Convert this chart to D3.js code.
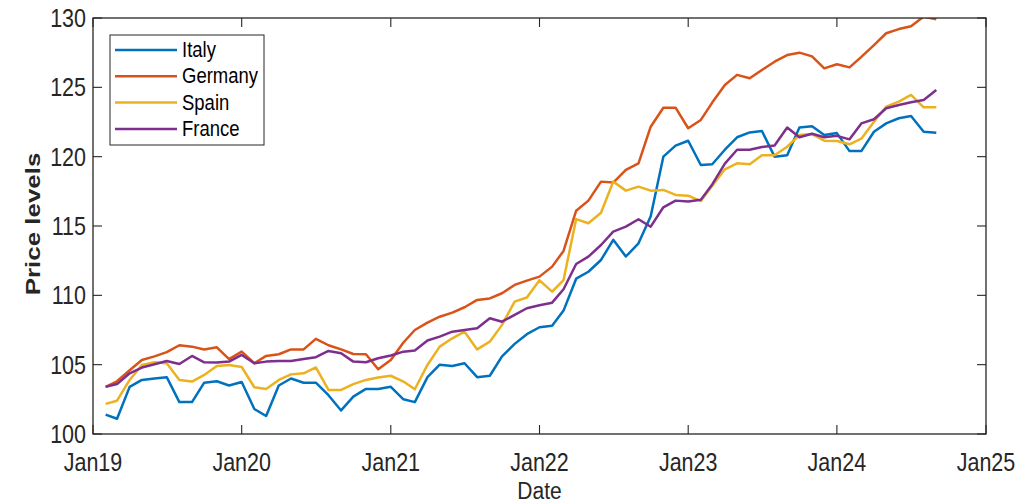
<!DOCTYPE html>
<html><head><meta charset="utf-8">
<script src="https://cdn.jsdelivr.net/npm/d3@7"></script>
<style>body{margin:0;background:#fff}svg{display:block}</style>
</head><body>
<svg id="c" width="1030" height="504"></svg>
<script>
const countries = ["Italy","Germany","Spain","France"];
const colors = ["#0072BD","#D95319","#EDB120","#7E2F8E"];
const startMonth = [2019, 1]; // Feb 2019
const italy = [101.4,101.1,103.4,103.9,104.0,104.1,102.3,102.3,103.7,103.8,103.5,103.75,
101.8,101.3,103.5,104.0,103.7,103.7,102.8,101.7,102.7,103.25,103.25,103.4,
102.5,102.3,104.1,105.0,104.9,105.1,104.1,104.2,105.6,106.5,107.2,107.7,
107.8,108.9,111.2,111.7,112.55,114.0,112.8,113.75,115.7,120.0,120.8,121.15,
119.4,119.45,120.5,121.4,121.75,121.85,120.0,120.1,122.1,122.2,121.56,121.7,
120.4,120.4,121.8,122.4,122.77,122.93,121.8,121.73];
const germany = [103.4,103.8,104.6,105.34,105.6,105.9,106.4,106.3,106.1,106.25,105.4,105.94,
105.1,105.63,105.75,106.1,106.1,106.86,106.4,106.1,105.77,105.75,104.67,105.34,
106.6,107.5,108.03,108.46,108.75,109.14,109.67,109.78,110.15,110.75,111.06,111.35,
112.07,113.2,116.1,116.83,118.2,118.13,119.04,119.52,122.16,123.53,123.53,122.05,
122.65,123.9,125.17,125.9,125.65,126.25,126.85,127.33,127.5,127.23,126.37,126.66,
126.44,127.2,128.05,128.9,129.2,129.4,130.1,129.9];
const spain = [102.17,102.4,103.9,104.98,105.17,105.1,103.9,103.78,104.26,104.9,104.98,104.83,
103.37,103.25,103.9,104.3,104.38,104.8,103.18,103.18,103.6,103.9,104.07,104.2,
103.78,103.23,104.98,106.3,106.9,107.38,106.1,106.66,107.87,109.55,109.84,111.08,
110.27,111.1,115.5,115.2,115.96,118.2,117.55,117.84,117.55,117.6,117.24,117.19,
116.8,117.9,119.09,119.52,119.45,120.1,120.1,120.72,121.56,121.63,121.15,121.13,
120.89,121.3,122.52,123.6,123.97,124.45,123.56,123.56];
const france = [103.4,103.6,104.38,104.79,105.03,105.27,105.05,105.63,105.17,105.15,105.22,105.7,
105.1,105.22,105.27,105.27,105.41,105.54,105.99,105.82,105.22,105.17,105.46,105.66,
105.94,106.02,106.74,107.02,107.38,107.5,107.62,108.35,108.1,108.59,109.07,109.28,
109.47,110.44,112.26,112.79,113.63,114.6,114.95,115.49,114.95,116.35,116.83,116.76,
116.9,118.0,119.5,120.5,120.5,120.7,120.8,122.1,121.4,121.65,121.4,121.5,
121.25,122.4,122.7,123.49,123.73,123.92,124.09,124.81];
const yTicks = [100,105,110,115,120,125,130];
const xTickLabels = ["Jan19","Jan20","Jan21","Jan22","Jan23","Jan24","Jan25"];

const series = [italy, germany, spain, france];
const dates = italy.map((_, i) => new Date(startMonth[0], startMonth[1] + i, 1));

const L = 93, T = 18, W = 893, H = 416;
const SY = 1.22; // vertical text stretch
const svg = d3.select("#c");
const g = svg.append("g").attr("transform", `translate(${L},${T})`);
const x = d3.scaleTime().domain([new Date(2019,0,1), new Date(2025,0,1)]).range([0, W]);
const y = d3.scaleLinear().domain([100, 130]).range([H, 0]);
const xTicks = d3.range(7).map(i => new Date(2019 + i, 0, 1));

svg.append("defs").append("clipPath").attr("id","clip")
  .append("rect").attr("x",0).attr("y",0).attr("width",W).attr("height",H);

const axisColor = "#262626";
const font = "'Liberation Sans', Arial, Helvetica, sans-serif";
function stext(sel, tx, ty, str, opts) {
  const sy = opts.sy || SY;
  const t = sel.append("text")
    .attr("transform", `translate(${tx},${ty}) ${opts.rotate ? "rotate(-90) scale(" + sy + ",1)" : "scale(1," + sy + ")"}`)
    .attr("font-family", font).attr("font-size", opts.size).attr("fill", opts.fill || axisColor)
    .attr("text-anchor", opts.anchor || "middle")
    .attr("font-weight", opts.weight || "normal")
    .text(str);
  return t;
}

// lines
const line = d3.line().x((d, i) => x(dates[i])).y(d => y(d));
const lg = g.append("g").attr("clip-path", "url(#clip)");
series.forEach((s, k) => {
  lg.append("path").datum(s).attr("d", line).attr("fill","none")
    .attr("stroke", colors[k]).attr("stroke-width", 2.5).attr("stroke-linejoin","round");
});

// box
g.append("rect").attr("x",0).attr("y",0).attr("width",W).attr("height",H)
  .attr("fill","none").attr("stroke",axisColor).attr("stroke-width",1.3);
const tl = 9;
xTicks.forEach((d, i) => {
  const px = x(d);
  g.append("line").attr("x1",px).attr("x2",px).attr("y1",H).attr("y2",H-tl).attr("stroke",axisColor).attr("stroke-width",1.1);
  g.append("line").attr("x1",px).attr("x2",px).attr("y1",0).attr("y2",tl).attr("stroke",axisColor).attr("stroke-width",1.1);
  stext(g, px, H + 36.5, xTickLabels[i], {size: 21.5});
});
yTicks.forEach(v => {
  const py = y(v);
  g.append("line").attr("x1",0).attr("x2",tl).attr("y1",py).attr("y2",py).attr("stroke",axisColor).attr("stroke-width",1.1);
  g.append("line").attr("x1",W).attr("x2",W-tl).attr("y1",py).attr("y2",py).attr("stroke",axisColor).attr("stroke-width",1.1);
  stext(g, -7, py + 9, String(v), {size: 21.5, anchor: "end"});
});
stext(svg, L + W/2, 498.5, "Date", {size: 21, sy: 1.1});
stext(svg, 40, T + H/2 - 2, "Price levels", {size: 19.5, rotate: true, weight: "bold", sy: 1.33});

// legend
const lgd = svg.append("g");
lgd.append("rect").attr("x",110).attr("y",35).attr("width",154).attr("height",110)
  .attr("fill","#fff").attr("stroke",axisColor).attr("stroke-width",1);
countries.forEach((c, k) => {
  const ly = 50 + k * 26.3;
  lgd.append("line").attr("x1",115).attr("x2",177).attr("y1",ly).attr("y2",ly)
    .attr("stroke",colors[k]).attr("stroke-width",2.5);
  stext(lgd, 182, ly + 7, c, {size: 18.5, anchor: "start", fill: "#000"});
});
</script>
</body></html>
